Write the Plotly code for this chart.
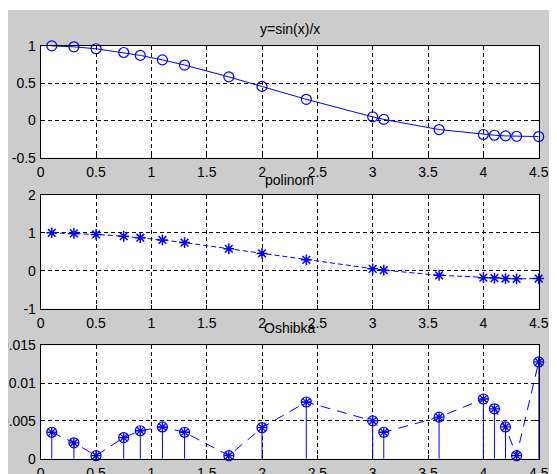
import plotly.graph_objects as go

# ---- data ----
x_pts = [0.1, 0.3, 0.5, 0.75, 0.9, 1.1, 1.3, 1.7, 2.0, 2.4, 3.0, 3.1, 3.6, 4.0, 4.1, 4.2, 4.3, 4.5]
y_sinc = [0.998, 0.985, 0.959, 0.909, 0.870, 0.810, 0.741, 0.582, 0.455, 0.282,
          0.047, 0.013, -0.123, -0.189, -0.199, -0.208, -0.213, -0.217]
y_poly = [1.001, 0.987, 0.959, 0.912, 0.874, 0.814, 0.744, 0.582, 0.459, 0.289,
          0.052, 0.016, -0.118, -0.181, -0.192, -0.204, -0.213, -0.204]
err = [0.0035, 0.0021, 0.0004, 0.0028, 0.0037, 0.0042, 0.0035, 0.0004, 0.0041, 0.0075,
       0.0050, 0.0035, 0.0055, 0.0079, 0.0066, 0.0042, 0.0004, 0.0128]

titles = ["y=sin(x)/x", "polinom", "Oshibka"]
x_ticks = [0, 0.5, 1, 1.5, 2, 2.5, 3, 3.5, 4, 4.5]
x_ticktext = ["0", "0.5", "1", "1.5", "2", "2.5", "3", "3.5", "4", "4.5"]
y1_ticks = [-0.5, 0, 0.5, 1]
y1_text = ["-0.5", "0", "0.5", "1"]
y2_ticks = [-1, 0, 1, 2]
y2_text = ["-1", "0", "1", "2"]
y3_ticks = [0, 0.005, 0.01, 0.015]
y3_text = ["0", "0.005", "0.01", "0.015"]

BLUE = "#0000ff"
W, H = 549, 466          # page is offset by the 8px body margin
FONT = "Liberation Sans, Arial, sans-serif"

fig = go.Figure()

# subplot 1
fig.add_trace(go.Scatter(x=x_pts, y=y_sinc, mode="lines+markers",
                         line=dict(color=BLUE, width=1),
                         marker=dict(symbol="circle-open", size=10, color=BLUE, line=dict(width=1.2)),
                         cliponaxis=False, xaxis="x", yaxis="y"))
# subplot 2
fig.add_trace(go.Scatter(x=x_pts, y=y_poly, mode="lines+markers",
                         line=dict(color=BLUE, width=1, dash="5px,3px"),
                         marker=dict(symbol="asterisk-open", size=9, color=BLUE, line=dict(width=1.5, color=BLUE)),
                         cliponaxis=False, xaxis="x2", yaxis="y2"))
# subplot 3: stems
sx, sy = [], []
for xv, ev in zip(x_pts, err):
    sx += [xv, xv, None]
    sy += [0, ev, None]
fig.add_trace(go.Scatter(x=sx, y=sy, mode="lines", line=dict(color=BLUE, width=1),
                         xaxis="x3", yaxis="y3"))
fig.add_trace(go.Scatter(x=x_pts, y=err, mode="lines",
                         line=dict(color=BLUE, width=1, dash="10px,7px"),
                         cliponaxis=False, xaxis="x3", yaxis="y3"))
fig.add_trace(go.Scatter(x=x_pts, y=err, mode="markers",
                         marker=dict(symbol="circle-open", size=10, color=BLUE, line=dict(width=1.2)),
                         cliponaxis=False, xaxis="x3", yaxis="y3"))
fig.add_trace(go.Scatter(x=x_pts, y=err, mode="markers",
                         marker=dict(symbol="asterisk-open", size=8, color=BLUE, line=dict(width=1.3, color=BLUE)),
                         cliponaxis=False, xaxis="x3", yaxis="y3"))

OFF = 8
xdom = [(40.7 - OFF) / W, (538.7 - OFF) / W]
ydoms = [[1 - (157.7 - OFF) / H, 1 - (45.7 - OFF) / H],
         [1 - (308.7 - OFF) / H, 1 - (195 - OFF) / H],
         [1 - (458.7 - OFF) / H, 1 - (345.3 - OFF) / H]]
title_y = [29 - OFF, 180 - OFF, 328 - OFF]

common_axis = dict(showline=True, linecolor="black", linewidth=1, mirror="ticks",
                   ticks="inside", ticklen=4, tickcolor="black",
                   showgrid=True, gridcolor="black", gridwidth=1, griddash="4px,3px",
                   zeroline=False, automargin=False,
                   tickfont=dict(family=FONT, size=14, color="black"))

layout = dict(width=W, height=H, margin=dict(l=0, r=0, t=0, b=0),
              paper_bgcolor="#cccccc", plot_bgcolor="white", showlegend=False,
              template="none")
yspecs = [(y1_ticks, y1_text, [-0.5, 1]), (y2_ticks, y2_text, [-1, 2]), (y3_ticks, y3_text, [0, 0.015])]
for i in range(3):
    sfx = "" if i == 0 else str(i + 1)
    layout["xaxis" + sfx] = dict(common_axis, domain=xdom, range=[0, 4.5],
                                 tickvals=x_ticks, ticktext=x_ticktext,
                                 anchor="y" + sfx, ticklabelstandoff=1)
    tv, tt, rg = yspecs[i]
    layout["yaxis" + sfx] = dict(common_axis, domain=ydoms[i], range=rg,
                                 tickvals=tv, ticktext=tt, anchor="x" + sfx,
                                 ticklabelstandoff=1)
fig.update_layout(**layout)

annotations = []
for i, t in enumerate(titles):
    annotations.append(dict(text=t, x=0.5 * (xdom[0] + xdom[1]), y=1 - title_y[i] / H,
                            xref="paper", yref="paper", xanchor="center", yanchor="middle",
                            showarrow=False, font=dict(family=FONT, size=14, color="black")))
fig.update_layout(annotations=annotations)

# thin white strip at the top (window border)
fig.add_shape(type="rect", xref="paper", yref="paper", x0=-0.01, x1=1.01, y0=1 - 2 / H, y1=1.01,
              fillcolor="white", line=dict(width=0), layer="above")

fig.write_html("out.html")
